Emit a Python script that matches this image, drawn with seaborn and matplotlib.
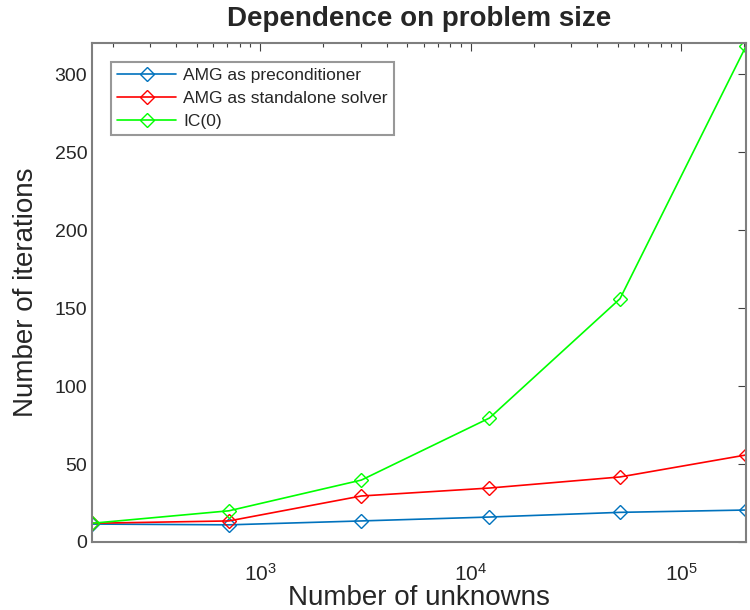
import numpy as np
import pandas as pd
import matplotlib
matplotlib.use("Agg")
import matplotlib.pyplot as plt
import seaborn as sns
from matplotlib.ticker import LogLocator, NullFormatter

unknowns = [159, 711, 3027, 12300, 51300, 203700]
amg_precond = [11.5, 11, 13.5, 16, 19, 20.5]
amg_standalone = [12, 13.5, 29.5, 34.6, 41.7, 55.8]
ic0 = [12, 20, 39.7, 79.5, 156, 318]
series_names = ["AMG as preconditioner", "AMG as standalone solver", "IC(0)"]
colors = ["#0072BD", "#FF0000", "#00FF00"]

df = pd.concat([
    pd.DataFrame({"n": unknowns, "iters": v, "method": name})
    for v, name in zip([amg_precond, amg_standalone, ic0], series_names)
])

sns.set_theme(style="white")
plt.rcParams["font.family"] = ["Liberation Sans", "DejaVu Sans"]

fig = plt.figure(figsize=(7.5, 6.1), dpi=100)
ax = fig.add_axes([0.1227, 0.1115, 0.8720, 0.818])

for name, c in zip(series_names, colors):
    sub = df[df["method"] == name]
    sns.lineplot(data=sub, x="n", y="iters", ax=ax, color=c, label=name,
                 marker="D", markersize=7, markerfacecolor="none",
                 markeredgecolor=c, markeredgewidth=1.0, linewidth=1.2)

ax.set_xscale("log")
ax.set_xlim(unknowns[0], unknowns[-1])
ax.set_ylim(0, 320)
ax.set_yticks([0, 50, 100, 150, 200, 250, 300])
ax.xaxis.set_major_locator(LogLocator(base=10, numticks=10))
ax.xaxis.set_minor_locator(LogLocator(base=10, subs=np.arange(2, 10), numticks=20))
ax.xaxis.set_minor_formatter(NullFormatter())

for sp in ax.spines.values():
    sp.set_color("#7f7f7f")
    sp.set_linewidth(1.5)
ax.tick_params(which="both", direction="in", top=True, right=True,
               color="#404040", labelcolor="#262626", labelsize=14)
ax.tick_params(axis="x", which="major", labelsize=15, pad=15)
ax.tick_params(which="major", length=6, width=0.8)
ax.tick_params(which="minor", length=3, width=0.8)

ax.set_xlabel("Number of unknowns", fontsize=20, color="#262626", labelpad=0)
ax.set_ylabel("Number of iterations", fontsize=20, color="#262626", labelpad=11)
ax.set_title("Dependence on problem size", fontsize=20, fontweight="bold", pad=12)

leg = ax.legend(loc="upper left", fontsize=12.5, frameon=True, fancybox=False,
                borderpad=0.35, labelspacing=0.45, handlelength=3.4,
                handletextpad=0.4, borderaxespad=1.1)
leg.get_frame().set_edgecolor("#7f7f7f")
leg.get_frame().set_linewidth(1.5)

fig.savefig("out.png", dpi=100)
